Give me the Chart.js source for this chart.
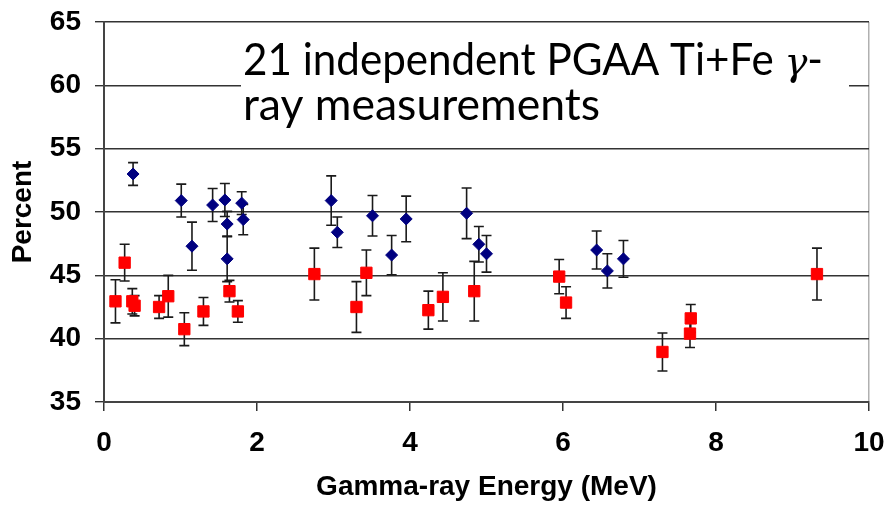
<!DOCTYPE html>
<html>
<head>
<meta charset="utf-8">
<script src="https://cdn.jsdelivr.net/npm/chart.js@4/dist/chart.umd.min.js"></script>
<style>
  html, body { margin: 0; padding: 0; background: #fff; }
  #c { display: block; }
</style>
</head>
<body>
<canvas id="c" width="885" height="505" style="width:885px;height:505px"></canvas>
<script>
// ---- data ----
const blueX   = [0.38, 1.01, 1.15, 1.42, 1.58, 1.61, 1.61, 1.80, 1.82, 2.97, 3.05, 3.51, 3.76, 3.95, 4.74, 4.90, 5.00, 6.44, 6.58, 6.79];
const blueY   = [53.0, 50.9, 47.3, 50.55, 50.95, 49.05, 46.3, 50.7, 49.4, 50.9, 48.4, 49.7, 46.6, 49.45, 49.9, 47.45, 46.7, 47.0, 45.35, 46.3];
const blueErr = [0.9, 1.3, 1.9, 1.3, 1.3, 1.0, 1.8, 0.9, 1.2, 1.95, 1.2, 1.6, 1.55, 1.8, 2.0, 1.4, 1.45, 1.5, 1.35, 1.45];

const redX    = [0.15, 0.27, 0.37, 0.40, 0.72, 0.84, 1.05, 1.30, 1.64, 1.75, 2.75, 3.30, 3.43, 4.24, 4.43, 4.84, 5.95, 6.04, 7.30, 7.66, 7.67, 9.32];
const redY    = [42.95, 46.0, 42.95, 42.6, 42.5, 43.35, 40.75, 42.15, 43.75, 42.15, 45.1, 42.5, 45.2, 42.25, 43.3, 43.75, 44.9, 42.85, 38.95, 40.4, 41.6, 45.1];
const redErr  = [1.7, 1.45, 1.0, 0.8, 0.9, 1.65, 1.3, 1.1, 0.85, 0.85, 2.05, 2.0, 1.8, 1.5, 1.9, 2.35, 1.35, 1.25, 1.5, 1.1, 1.1, 2.05];

const xTicks = [0, 2, 4, 6, 8, 10];
const yTicks = [35, 40, 45, 50, 55, 60, 65];
const xTitle = 'Gamma-ray Energy (MeV)';
const yTitle = 'Percent';
const noteLine1 = '21 independent PGAA Ti+Fe ';
const noteGamma = 'γ';
const noteDash = '-';
const noteLine2 = 'ray measurements';

// ---- build ----
const toPts = (xs, ys) => xs.map((v, i) => ({ x: v, y: ys[i] }));
const axisFont = { family: '"Liberation Sans", Arial, sans-serif', size: 28, weight: 'bold' };

const overlay = {
  id: 'overlay',
  beforeDatasetsDraw(chart) {
    const { ctx, scales: { x, y } } = chart;
    // white text box
    ctx.save();
    ctx.fillStyle = '#ffffff';
    ctx.fillRect(241, 28, 608, 112);
    const sans = '44px Lato, "Open Sans", sans-serif';
    ctx.fillStyle = '#000';
    ctx.textBaseline = 'alphabetic';
    ctx.font = sans;
    const w1 = ctx.measureText(noteLine1).width;
    const wd = ctx.measureText(noteDash).width;
    const w2 = ctx.measureText(noteLine2).width;
    ctx.font = 'italic 40px "DejaVu Serif", serif';
    const wg = ctx.measureText(noteGamma).width;
    const total1 = w1 + wg + wd;
    const sx = 580 / total1;
    ctx.save();
    ctx.translate(243, 75);
    ctx.scale(sx, 1);
    ctx.font = sans;
    ctx.fillText(noteLine1, 0, 0);
    ctx.font = 'italic 40px "DejaVu Serif", serif';
    ctx.fillText(noteGamma, w1, 0);
    ctx.font = sans;
    ctx.fillText(noteDash, w1 + wg, 0);
    ctx.restore();
    ctx.save();
    ctx.translate(243, 120);
    ctx.scale(357 / w2, 1);
    ctx.font = sans;
    ctx.fillText(noteLine2, 0, 0);
    ctx.restore();
    ctx.restore();

    // error bars
    ctx.save();
    ctx.strokeStyle = '#1a1a1a';
    ctx.lineWidth = 1.6;
    chart.data.datasets.forEach(ds => {
      ds.data.forEach((p, i) => {
        const e = ds.errors[i];
        const px = x.getPixelForValue(p.x);
        const t = y.getPixelForValue(p.y + e);
        const b = y.getPixelForValue(p.y - e);
        ctx.beginPath();
        ctx.moveTo(px, t); ctx.lineTo(px, b);
        ctx.moveTo(px - 5, t); ctx.lineTo(px + 5, t);
        ctx.moveTo(px - 5, b); ctx.lineTo(px + 5, b);
        ctx.stroke();
      });
    });
    ctx.restore();
  }
};

new Chart(document.getElementById('c'), {
  type: 'scatter',
  data: {
    datasets: [
      {
        label: 'Ti',
        data: toPts(blueX, blueY),
        errors: blueErr,
        pointStyle: 'rectRot',
        pointRadius: 6,
        backgroundColor: '#000080',
        borderColor: '#000080',
        borderWidth: 1
      },
      {
        label: 'Fe',
        data: toPts(redX, redY),
        errors: redErr,
        pointStyle: 'rect',
        pointRadius: 8,
        backgroundColor: '#ff0000',
        borderColor: '#ff0000',
        borderWidth: 1
      }
    ]
  },
  options: {
    responsive: false,
    animation: false,
    events: [],
    layout: { padding: { top: 22, right: 16, left: 0, bottom: 0 } },
    plugins: { legend: { display: false }, tooltip: { enabled: false } },
    scales: {
      x: {
        type: 'linear',
        min: 0, max: 10,
        afterBuildTicks: s => { s.ticks = xTicks.map(v => ({ value: v })); },
        afterFit: s => { s.height = 103; s.paddingLeft = 0; s.paddingRight = 0; },
        ticks: { font: axisFont, color: '#000', padding: 15, maxRotation: 0 },
        grid: {
          drawOnChartArea: true,
          color: c => (c.tick && c.tick.value === 10) ? '#b0b0b0' : 'rgba(0,0,0,0)',
          tickColor: '#333',
          tickLength: 9,
          lineWidth: 1.5
        },
        border: { color: '#444', width: 2 },
        title: { display: true, text: xTitle, font: axisFont, color: '#000', padding: { top: 6, bottom: 1 } }
      },
      y: {
        min: 35, max: 65,
        afterBuildTicks: s => { s.ticks = yTicks.map(v => ({ value: v })); },
        afterFit: s => { s.width = 104; s.paddingTop = 0; s.paddingBottom = 0; },
        ticks: { font: axisFont, color: '#000', padding: 14 },
        grid: { color: '#333', tickColor: '#333', tickLength: 9, lineWidth: 1.4 },
        border: { color: '#444', width: 2 },
        title: { display: true, text: yTitle, font: axisFont, color: '#000', padding: { top: 6, bottom: 0 } }
      }
    }
  },
  plugins: [overlay]
});
</script>
</body>
</html>
